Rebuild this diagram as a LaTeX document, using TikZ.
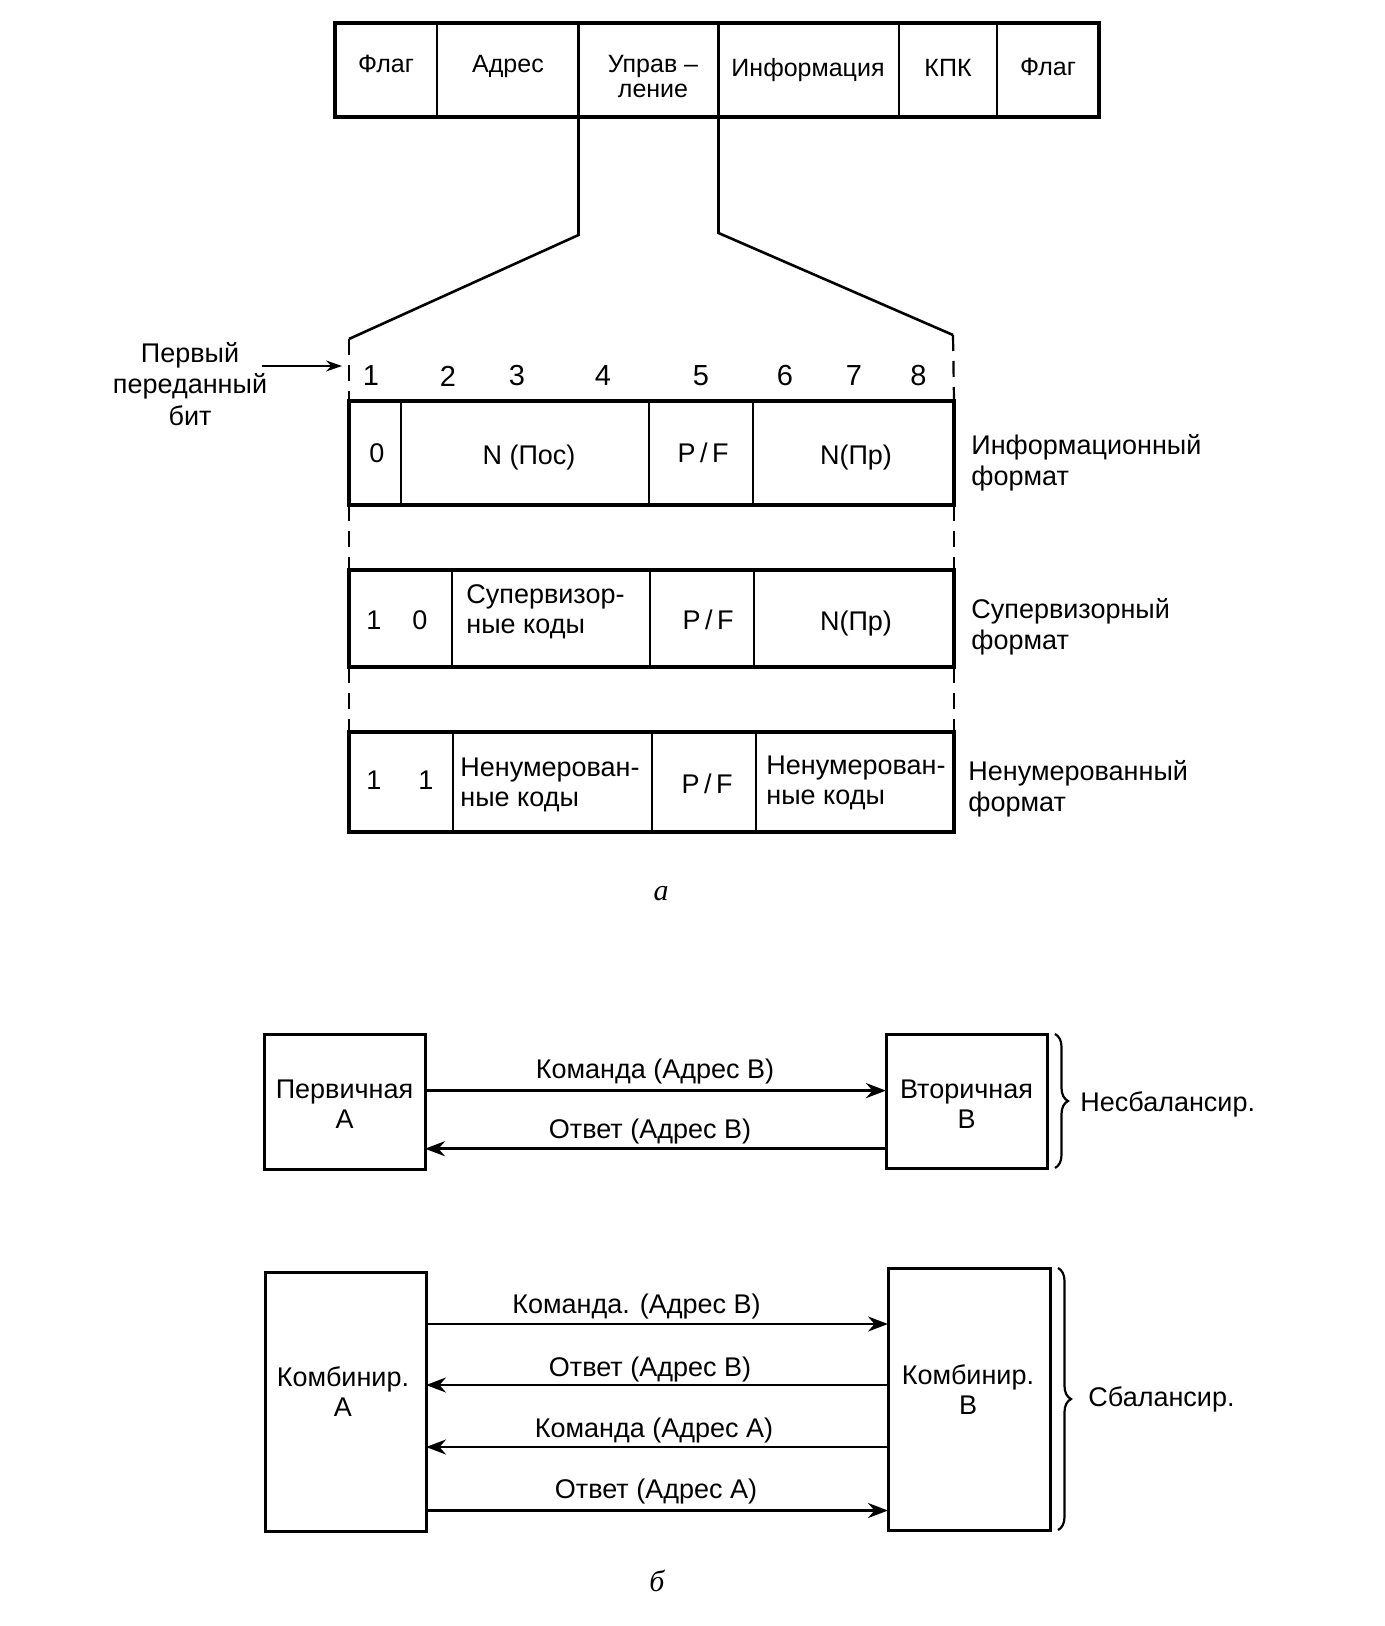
\documentclass[tikz,border=0pt]{standalone}
\usepackage{fontspec}
\setmainfont{Liberation Sans}
\newfontfamily\figfont{Liberation Serif}
\usetikzlibrary{arrows.meta,decorations.pathreplacing,fit}
\begin{document}
\begin{tikzpicture}[x=0.5pt,y=-0.5pt,
  cell/.style={draw, line width=1.1pt, inner sep=0pt, outer sep=0pt},
  frame/.style={draw, line width=1.8pt, inner sep=0pt, outer sep=0pt},
  txt/.style={inner sep=0pt, align=center, font=\fontsize{13.5}{15}\selectfont},
  htxt/.style={inner sep=0pt, align=center, font=\fontsize{12.5}{12.5}\selectfont},
  ltxt/.style={inner sep=0pt, align=left, anchor=west, font=\fontsize{13.5}{15}\selectfont},
  rtxt/.style={inner sep=0pt, align=left, anchor=west, font=\fontsize{13.5}{15.5}\selectfont},
  bit/.style={inner sep=0pt, font=\fontsize{14.5}{15}\selectfont},
  figlbl/.style={inner sep=0pt, font=\figfont\itshape\fontsize{15}{15}\selectfont},
  trap/.style={line width=1.3pt},
  guide/.style={line width=1.1pt, dash pattern=on 8pt off 5pt},
  msg/.style={line width=1.3pt, -{Stealth[length=10pt,width=7.5pt]}},
  brc/.style={decorate, decoration={brace, amplitude=6.5pt}, line width=1.1pt}]
\useasboundingbox (0,0) rectangle (1385,1626);
\fill[white] (0,0) rectangle (1385,1626);

% ---------- frame header ----------
\node[cell, fit={(335,23)(437,117)}] (hf1) {};
\node[cell, fit={(437,23)(578.5,117)}] (hf2) {};
\node[cell, fit={(578.5,23)(718.5,117)}] (hf3) {};
\node[cell, fit={(718.5,23)(899,117)}] (hf4) {};
\node[cell, fit={(899,23)(997,117)}] (hf5) {};
\node[cell, fit={(997,23)(1099,117)}] (hf6) {};
\node[frame, fit={(335,23)(1099,117)}] (hdr) {};
\node[htxt] (t1) at (386,64) {Флаг};
\node[htxt] (t2) at (508,66) {Адрес};
\node[htxt] (t3) at (653,77) {Управ –\\ление};
\node[htxt] (t4) at (808,70) {Информация};
\node[htxt] (t5) at (948,68) {КПК};
\node[htxt] (t6) at (1048,67) {Флаг};

% ---------- expansion lines ----------
\coordinate (kl) at (578.5,235);
\coordinate (kr) at (718.5,233);
\coordinate (gl) at (349,339);
\coordinate (gr) at (953,335);
\draw[trap] (hf3.south west) -- (kl) -- (gl);
\draw[trap] (hf3.south east) -- (kr) -- (gr);

% ---------- bit numbers ----------
\node[bit] (n1) at (371,376) {1};
\node[bit] (n2) at (448,376) {2};
\node[bit] (n3) at (517,376) {3};
\node[bit] (n4) at (603,376) {4};
\node[bit] (n5) at (701,376) {5};
\node[bit] (n6) at (785,376) {6};
\node[bit] (n7) at (854,376) {7};
\node[bit] (n8) at (918.5,376) {8};

\node[txt, align=center, font=\fontsize{13.5}{15.75}\selectfont] (first) at (190,384) {Первый\\переданный\\бит};
\coordinate (fa) at (262,366);
\coordinate (fb) at (342,366);
\draw[line width=1.1pt, -{Stealth[length=8pt,width=5.5pt]}] (fa) -- (fb);

% ---------- information format ----------
\node[cell, fit={(349,401)(401,505)}] (a1) {};
\node[cell, fit={(401,401)(649,505)}] (a2) {};
\node[cell, fit={(649,401)(753,505)}] (a3) {};
\node[cell, fit={(753,401)(954,505)}] (a4) {};
\node[frame, fit={(349,401)(954,505)}] (ra) {};
\node[txt] (a1t) at (377,453) {0};
\node[txt] (a2t) at (529,458) {N (Пос)};
\node[txt] (a3t) at (703,453) {P\,/\,F};
\node[txt] (a4t) at (856,458) {N(Пр)};
\node[rtxt] (la) at (971,463) {Информационный\\формат};

% ---------- supervisory format ----------
\node[cell, fit={(349,570)(452,667)}] (b1) {};
\node[cell, fit={(452,570)(650,667)}] (b2) {};
\node[cell, fit={(650,570)(754,667)}] (b3) {};
\node[cell, fit={(754,570)(954,667)}] (b4) {};
\node[frame, fit={(349,570)(954,667)}] (rb) {};
\node[txt] (b1x) at (374,620) {1};
\node[txt] (b1y) at (420,620) {0};
\node[ltxt] (b2t) at (466,612) {Супервизор-\\ные коды};
\node[txt] (b3t) at (708,620) {P\,/\,F};
\node[txt] (b4t) at (856,624) {N(Пр)};
\node[rtxt] (lb) at (971,627) {Супервизорный\\формат};

% ---------- unnumbered format ----------
\node[cell, fit={(349,732)(453,832)}] (c1) {};
\node[cell, fit={(453,732)(652,832)}] (c2) {};
\node[cell, fit={(652,732)(756,832)}] (c3) {};
\node[cell, fit={(756,732)(954,832)}] (c4) {};
\node[frame, fit={(349,732)(954,832)}] (rc) {};
\node[txt] (c1x) at (374,780) {1};
\node[txt] (c1y) at (426,780) {1};
\node[ltxt] (c2t) at (460,785) {Ненумерован-\\ные коды};
\node[txt] (c3t) at (707,784) {P\,/\,F};
\node[ltxt] (c4t) at (766,783) {Ненумерован-\\ные коды};
\node[rtxt] (lc) at (968,789) {Ненумерованный\\формат};

% ---------- dashed guides ----------
\draw[guide] (gl) -- (a1.north west);
\draw[guide] (gr) -- (a4.north east);
\draw[guide] (a1.south west) -- (b1.north west);
\draw[guide] (a4.south east) -- (b4.north east);
\draw[guide] (b1.south west) -- (c1.north west);
\draw[guide] (b4.south east) -- (c4.north east);

\node[figlbl] (capa) at (661,894) {а};

% ---------- unbalanced ----------
\node[frame, line width=1.5pt, fit={(264,1034)(425,1169)}] (pa) {};
\node[frame, line width=1.5pt, fit={(886,1034)(1047,1168)}] (vb) {};
\node[txt] (pat) at (344.5,1104) {Первичная\\А};
\node[txt] (vbt) at (966.5,1104) {Вторичная\\В};
\coordinate (u1) at (0,1090.6);
\coordinate (u2) at (0,1148.7);
\draw[msg] (pa.east |- u1) -- (vb.west |- u1);
\draw[msg] (vb.west |- u2) -- (pa.east |- u2);
\node[txt] (m1) at (655,1072) {Команда (Адрес В)};
\node[txt] (m2) at (650,1132) {Ответ (Адрес В)};
\draw[brc] (1055,1034) -- (1055,1168);
\node[rtxt] (nb) at (1080,1104) {Несбалансир.};

% ---------- balanced ----------
\node[frame, line width=1.5pt, fit={(265,1272)(426,1531)}] (ka) {};
\node[frame, line width=1.5pt, fit={(888,1268)(1050,1530)}] (kb) {};
\node[txt] (kat) at (343,1392) {Комбинир.\\А};
\node[txt] (kbt) at (968,1390) {Комбинир.\\В};
\coordinate (w1) at (0,1324);
\coordinate (w2) at (0,1385);
\coordinate (w3) at (0,1447);
\coordinate (w4) at (0,1510.5);
\draw[msg] (ka.east |- w1) -- (kb.west |- w1);
\draw[msg] (kb.west |- w2) -- (ka.east |- w2);
\draw[msg] (kb.west |- w3) -- (ka.east |- w3);
\draw[msg] (ka.east |- w4) -- (kb.west |- w4);
\node[txt] (k1) at (636.5,1307) {Команда. (Адрес В)};
\node[txt] (k2) at (650,1370) {Ответ (Адрес В)};
\node[txt] (k3) at (654,1430.5) {Команда (Адрес А)};
\node[txt] (k4) at (656,1492) {Ответ (Адрес А)};
\draw[brc] (1058,1268) -- (1058,1530);
\node[rtxt] (sb) at (1088,1399.5) {Сбалансир.};

\node[figlbl] (capb) at (657,1581) {б};
\end{tikzpicture}
\end{document}
